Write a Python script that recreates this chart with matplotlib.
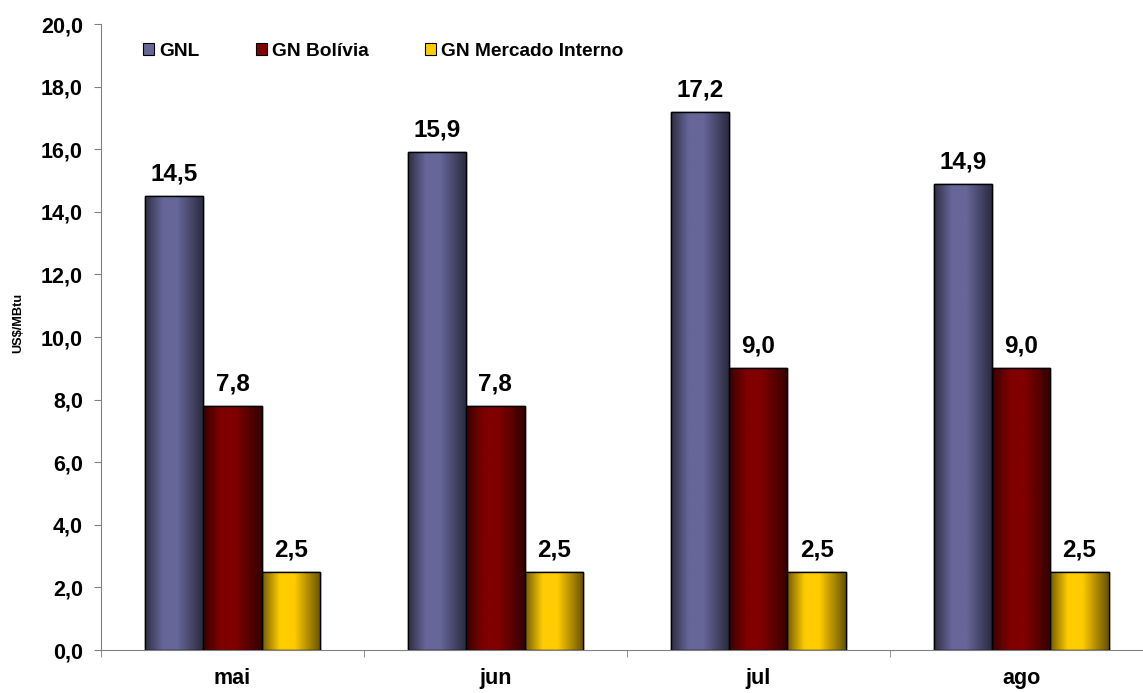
import numpy as np
import matplotlib
matplotlib.use("Agg")
from matplotlib import pyplot as plt
from matplotlib.colors import to_rgb
from matplotlib.patches import Rectangle

months = ["mai", "jun", "jul", "ago"]
series = ["GNL", "GN Bolívia", "GN Mercado Interno"]
gnl = [14.5, 15.9, 17.2, 14.9]
bolivia = [7.8, 7.8, 9.0, 9.0]
mercado = [2.5, 2.5, 2.5, 2.5]
colors = ["#666699", "#800000", "#FFCC00"]

plt.rcParams['font.family'] = ['Liberation Sans', 'DejaVu Sans']
plt.rcParams['font.weight'] = 'bold'

fig = plt.figure(figsize=(11.43, 6.93), dpi=100)
ax = fig.add_axes([0.0884, 0.062, 0.920, 0.9033])

x = np.arange(len(months))
w = 0.222
offsets = [-w, 0, w]

# horizontal shading profile for the "cylinder" look
t = np.linspace(0, 1, 200)
shade = np.interp(t, [0, 0.3, 0.55, 1.0], [0.45, 1.0, 1.0, 0.4])

for vals, off, c in zip([gnl, bolivia, mercado], offsets, colors):
    rgb = np.array(to_rgb(c))
    grad = (shade[:, None] * rgb[None, :])[None, :, :]
    bars = ax.bar(x + off, vals, w, color=c, edgecolor="black", linewidth=1.0, zorder=2)
    for b, v in zip(bars, vals):
        im = ax.imshow(grad, extent=[b.get_x(), b.get_x() + w, 0, v],
                       aspect="auto", zorder=2.5, interpolation="bilinear")
        im.set_clip_path(b)
        ax.add_patch(Rectangle((b.get_x(), 0), w, v, fill=False,
                               edgecolor="black", linewidth=1.0, zorder=3))
        ax.text(b.get_x() + w / 2, v + 0.5, f"{v:.1f}".replace(".", ","),
                ha="center", va="baseline", fontsize=17.5, fontweight="bold")

ax.set_xlim(-0.5, 3.5)
ax.set_ylim(0, 20)
yt = np.arange(0, 20.1, 2)
ax.set_yticks(yt)
ax.set_yticklabels([f"{v:.1f}".replace(".", ",") for v in yt], fontsize=15.5, fontweight="bold")
ax.set_xticks(x)
ax.set_xticklabels(months, fontsize=15.5, fontweight="bold")
ax.set_xticks(np.arange(-0.5, 3.6, 1), minor=True)
ax.tick_params(axis="x", which="major", length=0, pad=13)
ax.tick_params(axis="x", which="minor", length=5, color="#808080")
ax.tick_params(axis="y", length=5, color="#808080", pad=8)
for s in ["top", "right"]:
    ax.spines[s].set_visible(False)
for s in ["left", "bottom"]:
    ax.spines[s].set_color("#808080")
fig.text(18 / 1143, 1 - 323 / 693, "US$/MBtu", rotation=90, ha="center", va="center",
         fontsize=9.2, fontweight="bold")

handles = [Rectangle((0, 0), 1, 1, facecolor=c, edgecolor="black", linewidth=0.8) for c in colors]
fig.legend(handles, series, loc="center left", bbox_to_anchor=(0.1251, 0.926),
           bbox_transform=fig.transFigure, ncol=3, frameon=False,
           prop={"weight": "bold", "size": 13.8}, borderpad=0, borderaxespad=0,
           handlelength=0.58, handleheight=0.58, handletextpad=0.25, columnspacing=2.95)

fig.savefig("out.png", dpi=100)
